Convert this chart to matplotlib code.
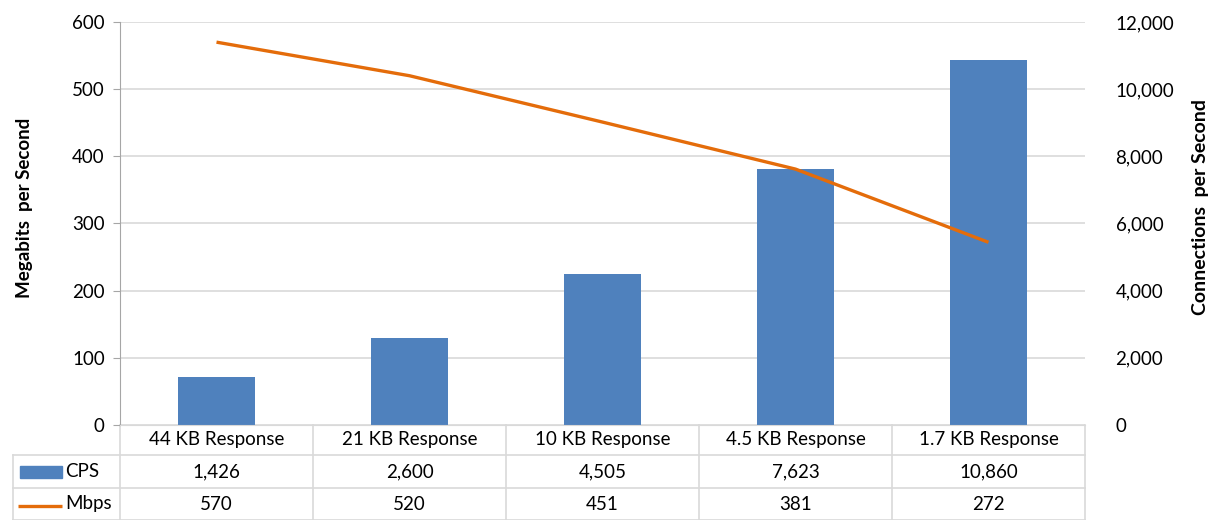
import matplotlib
matplotlib.use("Agg")
import matplotlib.pyplot as plt
from matplotlib.ticker import FuncFormatter, MultipleLocator
from matplotlib.patches import Rectangle

plt.rcParams['font.family'] = ['Lato', 'DejaVu Sans']

categories = ["44 KB Response", "21 KB Response", "10 KB Response",
              "4.5 KB Response", "1.7 KB Response"]
cps = [1426, 2600, 4505, 7623, 10860]
mbps = [570, 520, 451, 381, 272]

BAR_COLOR = "#4F81BD"
LINE_COLOR = "#E46C0A"
GRID = "#D9D9D9"
AXIS = "#A6A6A6"

W, H = 1217, 520
fig = plt.figure(figsize=(W / 100, H / 100), dpi=100)

# plot area in pixel units
px_l, px_r, px_t, px_b = 120, 1085, 22, 425
ax = fig.add_axes([px_l / W, 1 - px_b / H, (px_r - px_l) / W, (px_b - px_t) / H])
ax2 = ax.twinx()

x = list(range(len(categories)))

# bars on the secondary (CPS) axis, line on the primary (Mbps) axis
ax2.bar(x, cps, width=0.4, color=BAR_COLOR, zorder=2)
ax2.set_ylim(0, 12000)
ax2.yaxis.set_major_locator(MultipleLocator(2000))
ax2.yaxis.set_major_formatter(FuncFormatter(lambda v, p: f"{int(v):,}"))
ax2.grid(axis="y", color=GRID, linewidth=1.2, zorder=0)
ax2.set_axisbelow(True)

ax.set_ylim(0, 600)
ax.yaxis.set_major_locator(MultipleLocator(100))
ax.set_xlim(-0.5, len(categories) - 0.5)
ax.set_xticks([])

# line drawn above the bars
ax.set_zorder(ax2.get_zorder() + 1)
ax.patch.set_visible(False)
ax.plot(x, mbps, color=LINE_COLOR, linewidth=2.4, solid_capstyle="butt", zorder=3)

for a in (ax, ax2):
    for s in ("top", "right", "bottom", "left"):
        a.spines[s].set_visible(False)

ax.spines["left"].set_visible(True)
ax.spines["left"].set_color(AXIS)
ax.spines["bottom"].set_visible(True)
ax.spines["bottom"].set_color(GRID)

fs = 13.5
ax.tick_params(axis="y", direction="out", length=5, color=AXIS, labelsize=fs,
               labelcolor="black", pad=6)
ax2.tick_params(axis="y", length=0, labelsize=fs, labelcolor="black", pad=22)

ax.set_ylabel("Megabits  per Second", fontsize=13.5, fontweight="bold", labelpad=28)
ax2.set_ylabel("Connections  per Second", fontsize=14, fontweight="bold", labelpad=13)
ax.yaxis.label.set_y(0.54)
ax2.yaxis.label.set_y(0.54)

# data table below the plot area
tab_l, tab_r = 13, 1085
row_y = [425, 455, 488, 520]
cat_w = (px_r - px_l) / len(categories)
tx = fig.add_axes([tab_l / W, 0, (tab_r - tab_l) / W, (H - row_y[0]) / H])
first = -0.5 - (px_l - tab_l) / cat_w
tx.set_xlim(first, len(categories) - 0.5)
tx.set_ylim(H - row_y[0], 0)
tx.axis("off")

def ry(p):
    return p - row_y[0]

lw = 1.2
for i in range(len(categories) + 1):
    xb = i - 0.5
    tx.plot([xb, xb], [ry(row_y[0]), ry(row_y[3])], color=GRID, lw=lw, clip_on=False)
for yy in row_y[1:]:
    tx.plot([first, len(categories) - 0.5], [ry(yy), ry(yy)], color=GRID, lw=lw,
            clip_on=False)
tx.plot([first, first], [ry(row_y[1]), ry(row_y[3])], color=GRID, lw=lw, clip_on=False)

for i, c in enumerate(categories):
    tx.text(i, ry((row_y[0] + row_y[1]) / 2), c, ha="center", va="center", fontsize=fs)
    tx.text(i, ry((row_y[1] + row_y[2]) / 2), f"{cps[i]:,}", ha="center", va="center",
            fontsize=fs)
    tx.text(i, ry((row_y[2] + row_y[3]) / 2), f"{mbps[i]:,}", ha="center", va="center",
            fontsize=fs)

# legend keys inside the first column
k0 = first + 7 / cat_w
k1 = first + 49 / cat_w
tx.add_patch(Rectangle((k0, ry(466)), k1 - k0, 12, color=BAR_COLOR, clip_on=False))
tx.plot([first + 5 / cat_w, k1], [ry(506), ry(506)], color=LINE_COLOR, lw=2.4,
        clip_on=False, solid_capstyle="butt")
tx.text(first + 52 / cat_w, ry((row_y[1] + row_y[2]) / 2), "CPS", ha="left",
        va="center", fontsize=fs)
tx.text(first + 52 / cat_w, ry((row_y[2] + row_y[3]) / 2), "Mbps", ha="left",
        va="center", fontsize=fs)

fig.savefig("out.png", dpi=100)
